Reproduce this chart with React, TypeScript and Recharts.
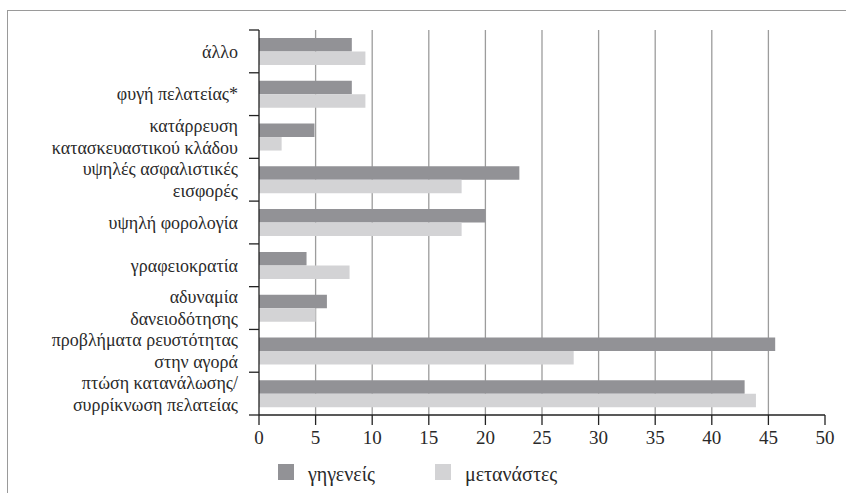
import React from "react"
import { BarChart, Bar, XAxis, YAxis, CartesianGrid } from "recharts"

const categories = [
  "άλλο",
  "φυγή πελατείας*",
  "κατάρρευση\nκατασκευαστικού κλάδου",
  "υψηλές ασφαλιστικές\nεισφορές",
  "υψηλή φορολογία",
  "γραφειοκρατία",
  "αδυναμία\nδανειοδότησης",
  "προβλήματα ρευστότητας\nστην αγορά",
  "πτώση κατανάλωσης/\nσυρρίκνωση πελατείας",
]
const natives = [8.2, 8.2, 4.9, 23, 20, 4.2, 6, 45.6, 42.9]
const migrants = [9.4, 9.4, 2, 17.9, 17.9, 8, 5, 27.8, 43.9]
const xTicks = [0, 5, 10, 15, 20, 25, 30, 35, 40, 45, 50]
const gridValues = [5, 10, 15, 20, 25, 30, 35, 40, 45]

const seriesNames = ["γηγενείς", "μετανάστες"]
const seriesColors = ["#929296", "#d3d3d5"]

const data = categories.map((c, i) => ({ name: c, natives: natives[i], migrants: migrants[i] }))

const W = 846
const H = 493
const MARGIN = { top: 30, right: 21, bottom: 43, left: 0 }
const X_AXIS_H = 35
const Y_AXIS_W = 259
const FONT = "Liberation Serif"
const TEXT = "#2a2a2a"

const bandSize = (H - MARGIN.top - MARGIN.bottom - X_AXIS_H) / categories.length

function CategoryTick(props: any) {
  const { x, y, payload, index } = props
  const lines = String(payload.value).split("\n")
  const lineH = 22
  const axisX = x + 21
  const startY = y - ((lines.length - 1) * lineH) / 2
  return (
    <g>
      <line x1={axisX - 10} x2={axisX} y1={y - bandSize / 2} y2={y - bandSize / 2} stroke="#222" strokeWidth={1.3} />
      {index === categories.length - 1 && (
        <line x1={axisX - 10} x2={axisX} y1={y + bandSize / 2} y2={y + bandSize / 2} stroke="#222" strokeWidth={1.3} />
      )}
      <text x={x} y={startY} textAnchor="end" fill={TEXT} fontSize={18} fontFamily={FONT}>
        {lines.map((l, i) => (
          <tspan key={i} x={x} y={startY + i * lineH} dy="0.35em" fontFamily={FONT}>
            {l}
          </tspan>
        ))}
      </text>
    </g>
  )
}

export default function App() {
  return (
    <div style={{ position: "absolute", left: 0, top: 0, width: W, height: H, background: "#fff", fontFamily: FONT }}>
      {/* frame: top and left edges only */}
      <div
        style={{
          position: "absolute",
          left: 7,
          top: 10,
          width: W - 7,
          height: H - 10,
          borderTop: "1.5px solid #9a9a9a",
          borderLeft: "1.5px solid #9a9a9a",
          boxSizing: "border-box",
        }}
      />
      <div style={{ position: "absolute", left: 0, top: 0 }}>
        <BarChart width={W} height={H} data={data} layout="vertical" margin={MARGIN} barGap={0}>
          <CartesianGrid horizontal={false} verticalValues={gridValues} stroke="#9c9c9c" strokeWidth={1.3} />
          <XAxis
            type="number"
            domain={[0, 50]}
            ticks={xTicks}
            interval={0}
            height={X_AXIS_H}
            tickSize={10}
            tickMargin={6}
            axisLine={{ stroke: "#222", strokeWidth: 1.3 }}
            tickLine={{ stroke: "#222", strokeWidth: 1.3 }}
            tick={{ fill: TEXT, fontSize: 19, fontFamily: FONT }}
          />
          <YAxis
            type="category"
            dataKey="name"
            width={Y_AXIS_W}
            interval={0}
            tickSize={10}
            tickMargin={11}
            tickLine={false}
            axisLine={{ stroke: "#222", strokeWidth: 1.3 }}
            tick={<CategoryTick />}
          />
          <Bar dataKey="natives" name={seriesNames[0]} fill={seriesColors[0]} barSize={13.5} isAnimationActive={false} />
          <Bar dataKey="migrants" name={seriesNames[1]} fill={seriesColors[1]} barSize={13.5} isAnimationActive={false} />
        </BarChart>
      </div>
      <div
        style={{
          position: "absolute",
          left: 278,
          top: 461,
          display: "flex",
          alignItems: "center",
          fontSize: 20,
          fontFamily: FONT,
          color: TEXT,
        }}
      >
        {seriesNames.map((n, i) => (
          <div key={n} style={{ display: "flex", alignItems: "center", marginRight: i === 0 ? 60 : 0 }}>
            <span style={{ width: 16, height: 16, background: seriesColors[i], display: "inline-block", marginRight: 14 }} />
            <span style={{ lineHeight: "18px", marginTop: 4 }}>{n}</span>
          </div>
        ))}
      </div>
    </div>
  )
}
